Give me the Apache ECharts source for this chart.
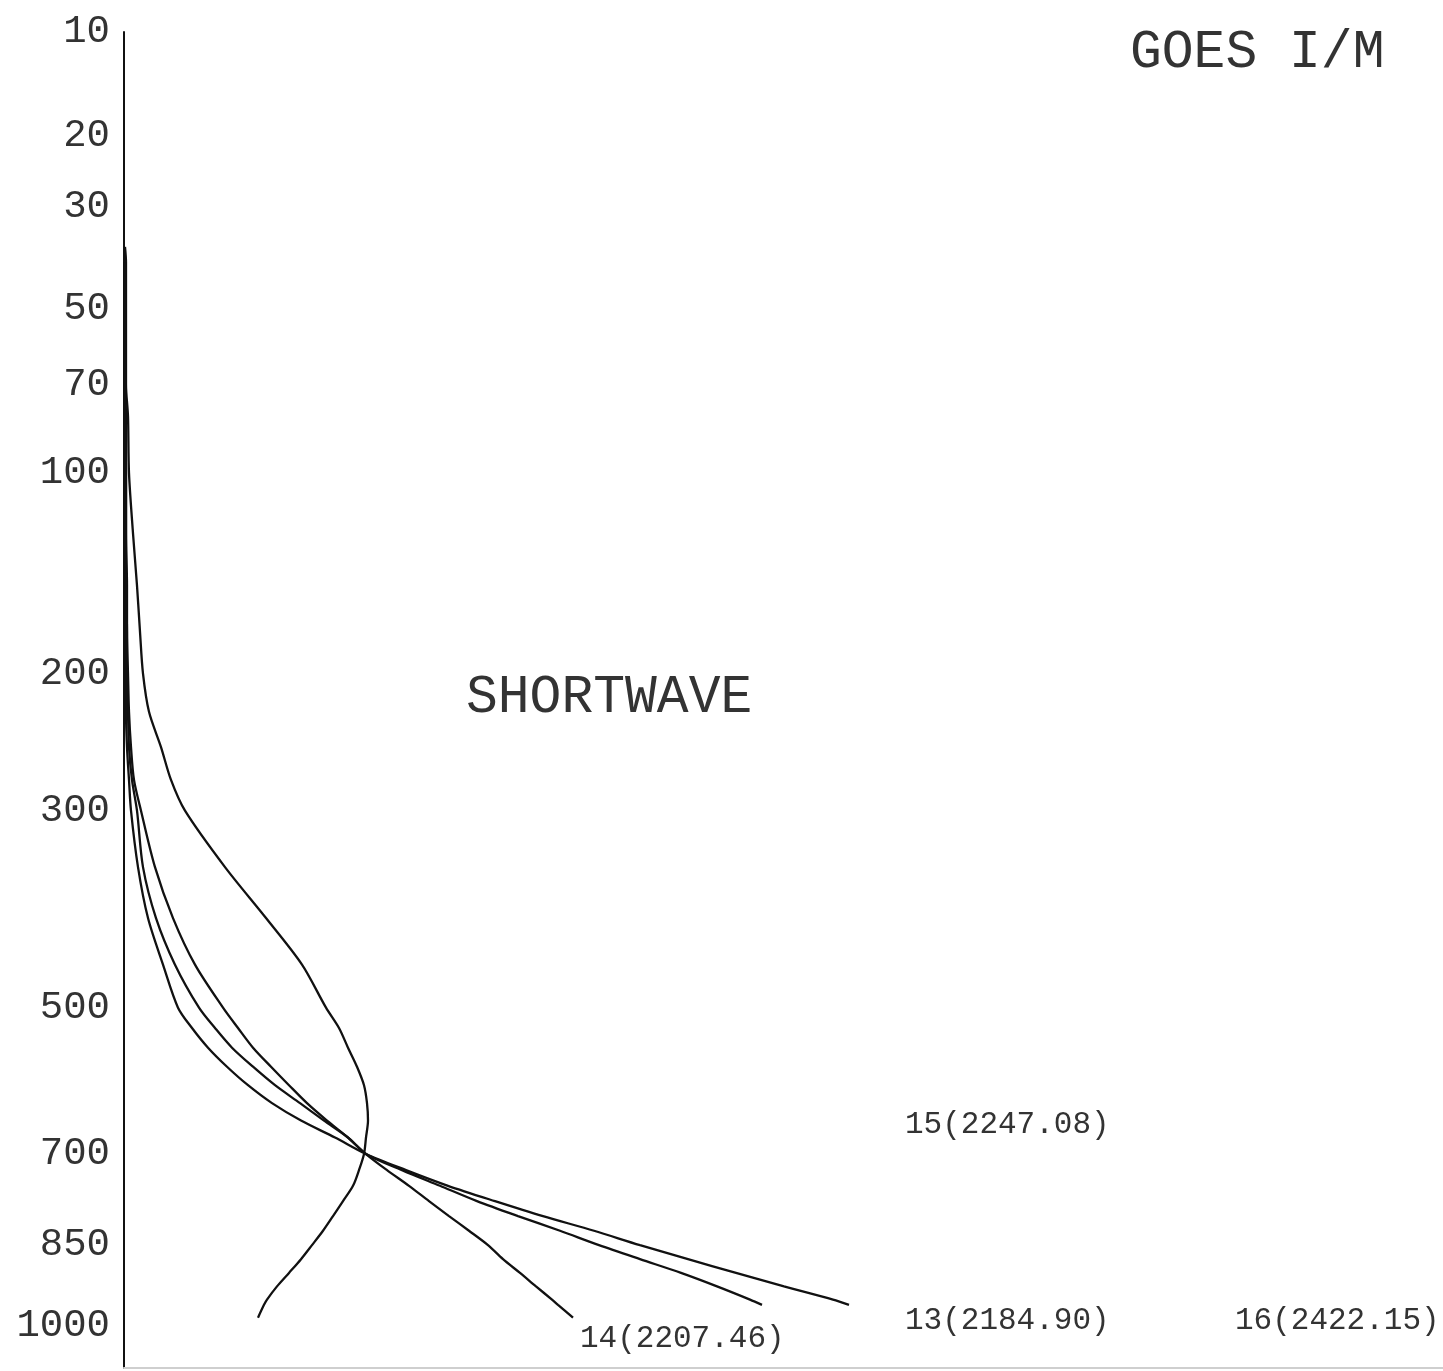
<!DOCTYPE html>
<html><head><meta charset="utf-8">
<script src="https://cdn.jsdelivr.net/npm/echarts@6/dist/echarts.min.js"></script>
<style>html,body{margin:0;padding:0;background:#fff}#c{width:1443px;height:1371px}</style>
</head><body><div id="c"></div>
<script>
// Pressure tick labels (hPa)
const pressureTicks = [10, 20, 30, 50, 70, 100, 200, 300, 500, 700, 850, 1000];
// Pressure levels (hPa) at which the weighting functions are sampled
const levels = [37, 40, 50, 60, 70, 80, 100, 125, 150, 175, 200, 225, 250, 275, 300, 350, 400, 450, 500, 525, 550, 575, 600, 625, 650, 675, 700, 725, 750, 775, 800, 825, 850, 875, 900, 925, 950, 960, 985];
// Weighting function values per channel (arbitrary units), null = not drawn
const ch15 = [0.001, 0.002, 0.002, 0.002, 0.002, 0.004, 0.005, 0.009, 0.013, 0.016, 0.019, 0.025, 0.037, 0.047, 0.061, 0.101, 0.142, 0.178, 0.202, 0.215, 0.224, 0.233, 0.240, 0.243, 0.244, 0.242, 0.240, 0.235, 0.229, 0.219, 0.209, 0.199, 0.188, 0.177, 0.165, 0.153, 0.143, 0.140, 0.134];
const ch14 = [null, 0.001, 0.001, 0.001, 0.001, 0.002, 0.002, 0.002, 0.003, 0.003, 0.004, 0.005, 0.007, 0.010, 0.017, 0.031, 0.049, 0.071, 0.099, 0.114, 0.129, 0.147, 0.165, 0.183, 0.203, 0.224, 0.242, 0.263, 0.285, 0.305, 0.325, 0.345, 0.364, 0.379, 0.396, 0.412, 0.428, 0.434, 0.449];
const ch13 = [null, 0.001, 0.001, 0.001, 0.001, 0.001, 0.002, 0.002, 0.002, 0.003, 0.003, 0.004, 0.005, 0.008, 0.013, 0.019, 0.032, 0.051, 0.075, 0.091, 0.108, 0.129, 0.151, 0.176, 0.200, 0.224, 0.242, 0.278, 0.316, 0.353, 0.394, 0.436, 0.475, 0.516, 0.557, 0.593, 0.626, 0.638, null];
const ch16 = [null, 0.001, 0.001, 0.001, 0.001, 0.001, 0.001, 0.001, 0.002, 0.002, 0.002, 0.002, 0.003, 0.005, 0.007, 0.014, 0.024, 0.039, 0.054, 0.068, 0.084, 0.103, 0.124, 0.148, 0.177, 0.211, 0.242, 0.282, 0.324, 0.371, 0.419, 0.470, 0.516, 0.564, 0.612, 0.660, 0.709, 0.725, null];
const channelNames = ['15', '14', '13', '16'];
const channelLabels = ['15(2247.08)', '14(2207.46)', '13(2184.90)', '16(2422.15)'];
const titleText = 'GOES I/M';
const bandText = 'SHORTWAVE';

const KAPPA = 0.286;
const T = p => Math.pow(p, KAPPA);
const FONT = '"Liberation Mono", "DejaVu Sans Mono", monospace';
const INK = '#111';
const TXT = '#333';

function toData(vals) {
  const out = [];
  vals.forEach((v, i) => { if (v !== null) out.push([v, T(levels[i])]); });
  return out;
}
const channels = [ch15, ch14, ch13, ch16];

const chart = echarts.init(document.getElementById('c'), null, {renderer: 'canvas'});
chart.setOption({
  backgroundColor: '#fff',
  animation: false,
  grid: {left: 124, right: 0, top: 32, bottom: 3, containLabel: false},
  xAxis: {
    type: 'value', min: 0, max: 1.319,
    axisLine: {show: true, lineStyle: {color: '#cfcfcf', width: 2}},
    axisTick: {show: false}, axisLabel: {show: false}, splitLine: {show: false}
  },
  yAxis: {
    type: 'value', inverse: true, min: T(10), max: T(1087),
    axisLine: {show: true, lineStyle: {color: INK, width: 2}},
    axisTick: {show: false},
    splitLine: {show: false},
    axisLabel: {
      show: true,
      customValues: pressureTicks.map(T),
      margin: 14,
      color: TXT,
      fontFamily: FONT,
      fontSize: 39,
      formatter: v => {
        let best = pressureTicks[0];
        pressureTicks.forEach(t => { if (Math.abs(T(t) - v) < Math.abs(T(best) - v)) best = t; });
        return String(best);
      }
    }
  },
  series: channels.map((vals, i) => ({
    name: channelNames[i],
    type: 'line',
    data: toData(vals),
    showSymbol: false,
    smooth: 0.3,
    lineStyle: {color: INK, width: 2.3},
    z: 3
  })),
  graphic: [
    {type: 'text', x: 1130, y: 53, style: {text: titleText, font: '53px ' + FONT, fill: TXT, align: 'left', verticalAlign: 'middle'}},
    {type: 'text', x: 466, y: 698, style: {text: bandText, font: '53px ' + FONT, fill: TXT, align: 'left', verticalAlign: 'middle'}},
    {type: 'text', x: 905, y: 1125, style: {text: channelLabels[0], font: '31px ' + FONT, fill: TXT, align: 'left', verticalAlign: 'middle'}},
    {type: 'text', x: 580, y: 1339, style: {text: channelLabels[1], font: '31px ' + FONT, fill: TXT, align: 'left', verticalAlign: 'middle'}},
    {type: 'text', x: 905, y: 1321, style: {text: channelLabels[2], font: '31px ' + FONT, fill: TXT, align: 'left', verticalAlign: 'middle'}},
    {type: 'text', x: 1235, y: 1321, style: {text: channelLabels[3], font: '31px ' + FONT, fill: TXT, align: 'left', verticalAlign: 'middle'}}
  ]
});
</script>
</body></html>
